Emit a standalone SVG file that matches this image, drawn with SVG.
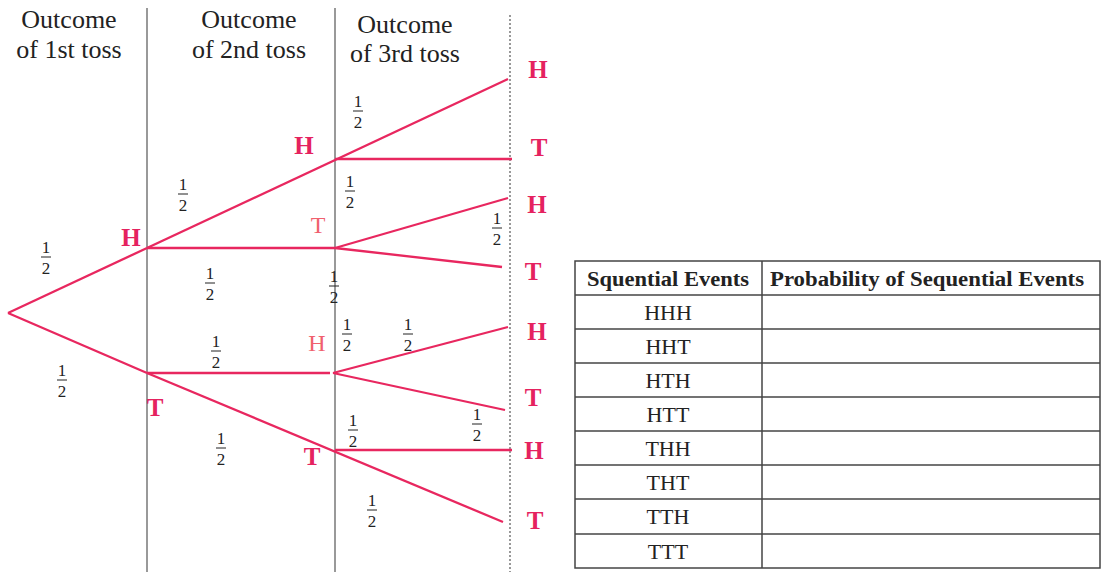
<svg xmlns="http://www.w3.org/2000/svg" width="1102" height="572" viewBox="0 0 1102 572" font-family="Liberation Serif, Times New Roman, serif">
<style>
.hdr{font-family:Liberation Serif,serif;font-size:26px;fill:#222;text-anchor:middle}
.lbl{font-family:Liberation Serif,serif;font-size:25px;font-weight:bold;fill:#e5225f;text-anchor:middle}
.lt{font-family:Liberation Serif,serif;font-size:24px;fill:#f0606e;text-anchor:middle}
.fr{font-family:Liberation Serif,serif;font-size:17px;fill:#222;text-anchor:middle}
.br{stroke:#222;stroke-width:1}
.edge{stroke:#e8275f;stroke-width:2.3;fill:none}
.col{stroke:#555;stroke-width:1.2}
.th{font-family:Liberation Serif,serif;font-size:20px;font-weight:bold;fill:#222;text-anchor:middle}
.td{font-family:Liberation Serif,serif;font-size:22px;fill:#222;text-anchor:middle}
.grid{stroke:#444;stroke-width:1.5;fill:none}
</style>
<defs>
<g id="half">
<text class="fr" x="0" y="-4">1</text>
<line class="br" x1="-5" y1="0" x2="5" y2="0"/>
<text class="fr" x="0" y="17">2</text>
</g>
</defs>
<rect width="1102" height="572" fill="#fff"/>
<g id="columns">
<line class="col" x1="147" y1="8" x2="147" y2="572"/>
<line class="col" x1="335" y1="8" x2="335" y2="572"/>
<line class="col" x1="510" y1="15" x2="510" y2="572" stroke-dasharray="2,2"/>
</g>
<g id="headers">
<text class="hdr" x="69" y="28">Outcome</text>
<text class="hdr" x="69" y="58">of 1st toss</text>
<text class="hdr" x="249" y="28">Outcome</text>
<text class="hdr" x="249" y="58">of 2nd toss</text>
<text class="hdr" x="405" y="33">Outcome</text>
<text class="hdr" x="405" y="62">of 3rd toss</text>
</g>
<g id="connectors">
<line class="edge" x1="8" y1="313" x2="147" y2="248"/>
<line class="edge" x1="8" y1="313" x2="147" y2="373"/>
<line class="edge" x1="147" y1="248" x2="508" y2="79"/>
<line class="edge" x1="147" y1="248" x2="335" y2="248"/>
<line class="edge" x1="335" y1="159" x2="512" y2="159"/>
<line class="edge" x1="335" y1="248" x2="508" y2="198"/>
<line class="edge" x1="335" y1="248" x2="502" y2="267"/>
<line class="edge" x1="147" y1="373" x2="330" y2="373"/>
<line class="edge" x1="333" y1="373" x2="508" y2="327"/>
<line class="edge" x1="333" y1="373" x2="505" y2="410"/>
<line class="edge" x1="147" y1="373" x2="503" y2="522"/>
<line class="edge" x1="335" y1="450" x2="512" y2="450"/>
</g>
<g id="node-H1"><text class="lbl" x="131" y="246">H</text></g>
<g id="node-T1"><text class="lbl" x="155" y="416">T</text></g>
<g id="node-HH"><text class="lbl" x="304" y="154">H</text></g>
<g id="node-HT"><text class="lt" x="318" y="233">T</text></g>
<g id="node-TH"><text class="lt" x="317" y="351">H</text></g>
<g id="node-TT"><text class="lbl" x="312" y="465">T</text></g>
<g id="leaf-HHH"><text class="lbl" x="538" y="78">H</text></g>
<g id="leaf-HHT"><text class="lbl" x="539" y="156">T</text></g>
<g id="leaf-HTH"><text class="lbl" x="537" y="213">H</text></g>
<g id="leaf-HTT"><text class="lbl" x="533" y="280">T</text></g>
<g id="leaf-THH"><text class="lbl" x="537" y="340">H</text></g>
<g id="leaf-THT"><text class="lbl" x="533" y="406">T</text></g>
<g id="leaf-TTH"><text class="lbl" x="534" y="459">H</text></g>
<g id="leaf-TTT"><text class="lbl" x="535" y="529">T</text></g>
<g id="probabilities">
<use href="#half" x="46" y="257"/>
<use href="#half" x="62" y="380"/>
<use href="#half" x="183" y="194"/>
<use href="#half" x="210" y="283"/>
<use href="#half" x="216" y="351"/>
<use href="#half" x="221" y="448"/>
<use href="#half" x="358" y="111"/>
<use href="#half" x="350" y="191"/>
<use href="#half" x="497" y="228"/>
<use href="#half" x="334" y="286"/>
<use href="#half" x="347" y="334"/>
<use href="#half" x="408" y="334"/>
<use href="#half" x="477" y="424"/>
<use href="#half" x="353" y="430"/>
<use href="#half" x="372" y="510"/>
</g>
<g id="table">
<rect class="grid" x="575" y="261" width="525" height="307"/>
<line class="grid" x1="762" y1="261" x2="762" y2="568"/>
<line class="grid" x1="575" y1="295" x2="1100" y2="295"/>
<line class="grid" x1="575" y1="329" x2="1100" y2="329"/>
<line class="grid" x1="575" y1="363" x2="1100" y2="363"/>
<line class="grid" x1="575" y1="397" x2="1100" y2="397"/>
<line class="grid" x1="575" y1="431" x2="1100" y2="431"/>
<line class="grid" x1="575" y1="465" x2="1100" y2="465"/>
<line class="grid" x1="575" y1="499" x2="1100" y2="499"/>
<line class="grid" x1="575" y1="534" x2="1100" y2="534"/>
<text class="th" x="668" y="286" textLength="162" lengthAdjust="spacingAndGlyphs">Squential Events</text>
<text class="th" x="927" y="286" textLength="314" lengthAdjust="spacingAndGlyphs">Probability of Sequential Events</text>
<text class="td" x="668" y="320">HHH</text>
<text class="td" x="668" y="354">HHT</text>
<text class="td" x="668" y="388">HTH</text>
<text class="td" x="668" y="422">HTT</text>
<text class="td" x="668" y="456">THH</text>
<text class="td" x="668" y="490">THT</text>
<text class="td" x="668" y="524">TTH</text>
<text class="td" x="668" y="559">TTT</text>
</g>
</svg>
